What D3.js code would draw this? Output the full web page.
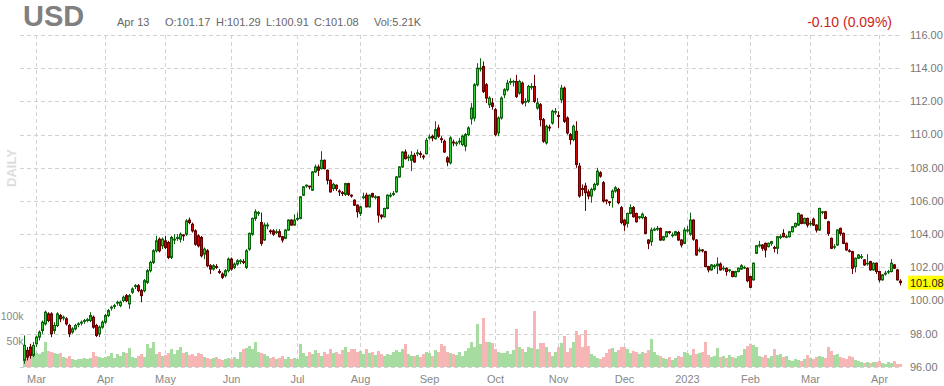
<!DOCTYPE html>
<html>
<head>
<meta charset="utf-8">
<script src="https://cdn.jsdelivr.net/npm/d3@7"></script>
<style>
  body { margin: 0; background: #fff; }
  svg { display: block; font-family: "Liberation Sans", Arial, sans-serif; }
</style>
</head>
<body>
<div id="chart"></div>
<script>
// Daily USD index candles with volume, Feb 2022 - Apr 2023

// Trading calendar: weekdays minus exchange holidays
var holidays = ["2022-04-15", "2022-12-26", "2023-01-02", "2023-04-07"];
var fmtDay = d3.timeFormat("%Y-%m-%d");
var dates = d3.timeDay.range(new Date(2022, 1, 23), new Date(2023, 3, 14))
    .filter(function (d) { return d.getDay() % 6 !== 0 && holidays.indexOf(fmtDay(d)) < 0; });

var opens = [
  96.4, 97.0, 97.2, 96.7, 97.4, 97.8, 98.2, 98.6, 99.2, 99.2,
  98.2, 98.5, 99.1, 98.95, 98.9, 98.5, 98.1, 98.3, 98.55, 98.65,
  98.75, 98.8, 98.8, 99.0, 98.5, 98.0, 98.4, 98.7, 99.1, 99.55,
  99.65, 99.85, 99.7, 100.0, 100.3, 99.8, 100.5, 100.85, 100.9, 100.6,
  100.6, 101.1, 101.8, 102.3, 103.0, 103.7, 103.3, 103.6, 103.5, 102.6,
  103.65, 103.75, 103.7, 103.95, 104.0, 104.85, 104.6, 104.2, 103.9, 103.8,
  102.8, 103.0, 102.1, 101.9, 102.05, 101.75, 101.6, 101.5, 101.8, 102.5,
  102.0, 102.2, 102.35, 102.35,
  102.0, 103.1, 104.0, 104.95, 105.25, 104.7, 103.65, 104.5, 104.2, 104.2,
  104.1, 104.15, 103.85, 103.75, 104.25, 104.85, 104.55, 104.9, 104.95, 106.35,
  106.9, 106.9, 106.65, 107.75, 108.05, 107.95, 108.45, 107.85, 107.25, 106.75,
  106.95, 106.6, 106.5, 106.4, 107.05, 106.35, 106.05, 105.75, 105.25, 106.2,
  106.35, 105.65, 106.45, 106.25, 106.25, 105.15, 105.05, 105.55, 106.3, 106.4,
  106.55, 107.45, 108.05, 108.95, 108.6, 108.45, 108.75, 108.85, 108.85, 108.7,
  108.85, 109.8, 109.9, 109.75, 110.4, 109.75, 109.6, 108.6, 108.3, 109.55,
  109.45, 109.55, 109.4,
  109.3, 110.0, 110.95, 111.0, 113.0, 113.95, 114.1, 113.0, 111.8, 111.9,
  111.5, 110.1, 111.0, 112.4, 112.7, 113.15, 113.2, 113.2, 112.5, 113.1,
  111.95, 112.0, 112.85, 112.9, 111.6, 111.8, 110.9, 109.5, 110.45, 110.7,
  111.35, 111.15, 112.1, 112.8, 111.0, 110.0, 109.7, 110.2, 108.1, 106.75,
  106.9, 106.55, 106.3, 106.7, 107.0, 107.7, 107.1, 106.05, 105.95, 106.2,
  106.6, 106.7, 105.6, 104.85, 104.65, 105.25, 105.6, 105.25, 105.0, 105.0,
  105.0, 103.65, 103.55, 104.25, 104.3, 104.35, 103.65, 103.85, 104.15, 103.95,
  103.95, 104.1, 103.65, 103.45, 104.2, 104.0,
  104.85, 103.65, 103.0, 103.05, 102.95, 102.05, 101.85, 102.05, 102.1, 102.2,
  101.95, 101.95, 101.85, 101.75, 101.45, 101.75, 101.9, 102.0, 101.95, 101.45,
  101.25, 102.85, 103.3, 103.35, 103.45, 103.25, 103.45, 103.2, 103.15, 103.8,
  104.05, 103.85, 103.85, 104.15, 104.45, 104.55, 105.15, 104.65, 104.95, 104.65,
  104.9, 104.55, 104.25, 105.35, 105.35, 104.75, 103.75, 103.25, 103.35, 104.35,
  104.05, 103.45, 103.0, 102.95, 102.05, 102.55, 102.65, 102.45, 102.25, 102.35,
  101.85, 102.25, 101.75, 101.25, 101.6, 101.75, 101.75, 102.15, 101.85, 101.17
];

var highs = [
  97.9, 97.2, 97.4, 97.5, 97.9, 98.2, 98.8, 99.4, 99.3, 99.3,
  98.7, 99.3, 99.2, 99.1, 99.0, 98.6, 98.4, 98.6, 98.7, 98.8,
  98.9, 98.95, 99.3, 99.1, 98.6, 98.5, 98.8, 99.2, 99.5, 99.7,
  99.8, 100.0, 100.0, 100.3, 100.4, 100.4, 100.8, 101.0, 101.0, 100.7,
  101.3, 101.9, 102.4, 103.1, 103.9, 103.8, 103.8, 103.9, 103.6, 103.9,
  104.0, 104.0, 104.1, 104.0, 104.9, 105.0, 104.7, 104.3, 104.0, 103.9,
  103.2, 103.1, 102.2, 102.2, 102.2, 101.9, 101.7, 101.9, 102.6, 102.6,
  102.3, 102.5, 102.5, 102.5,
  103.1, 104.1, 105.0, 105.5, 105.4, 105.3, 104.7, 104.7, 104.3, 104.3,
  104.3, 104.3, 103.9, 104.3, 104.9, 104.9, 105.2, 105.3, 106.3, 106.9,
  107.0, 106.9, 107.8, 108.2, 108.2, 109.0, 108.5, 107.9, 107.3, 107.1,
  107.0, 106.7, 106.6, 107.1, 107.1, 106.4, 106.1, 105.8, 105.7, 106.5,
  106.5, 106.4, 106.5, 106.35, 106.3, 105.2, 105.6, 106.4, 106.5, 106.6,
  107.5, 108.1, 109.0, 109.1, 108.8, 109.0, 108.9, 109.1, 109.0, 108.8,
  109.8, 110.0, 110.0, 110.8, 110.6, 109.9, 109.7, 108.7, 109.9, 109.7,
  109.6, 109.8, 110.0,
  110.1, 110.5, 111.9, 113.1, 114.3, 114.6, 114.4, 113.1, 112.3, 112.2,
  111.6, 111.1, 112.3, 112.8, 113.3, 113.4, 113.3, 113.6, 113.3, 113.2,
  112.2, 113.0, 113.1, 113.6, 112.2, 111.9, 111.0, 110.6, 110.6, 111.5,
  111.6, 111.4, 113.0, 112.9, 111.1, 110.1, 110.6, 110.8, 108.3, 107.0,
  107.1, 106.7, 106.8, 107.1, 108.0, 107.8, 107.2, 106.1, 106.0, 106.7,
  106.9, 106.8, 105.7, 104.9, 105.3, 105.8, 105.7, 105.3, 105.1, 105.3,
  105.1, 103.7, 104.4, 104.4, 104.5, 104.4, 103.9, 104.2, 104.2, 104.1,
  104.2, 104.2, 103.7, 104.4, 104.5, 105.3,
  104.9, 103.7, 103.2, 103.1, 103.0, 102.1, 102.2, 102.2, 102.6, 102.3,
  102.1, 102.0, 101.9, 101.8, 101.8, 102.0, 102.2, 102.1, 102.0, 101.5,
  102.3, 103.35, 103.6, 103.4, 103.5, 103.5, 103.6, 103.3, 103.9, 104.0,
  104.3, 103.95, 104.2, 104.5, 104.7, 105.3, 105.2, 105.0, 105.0, 104.8,
  105.0, 104.6, 105.6, 105.4, 105.4, 104.8, 103.8, 103.4, 104.3, 104.4,
  104.1, 103.5, 103.1, 103.0, 102.6, 102.8, 102.8, 102.5, 102.8, 102.4,
  102.3, 102.3, 101.8, 101.6, 101.8, 101.85, 102.5, 102.2, 101.9, 101.29
];

var lows = [
  96.2, 96.4, 96.5, 96.6, 97.2, 97.6, 98.0, 98.5, 98.7, 97.8,
  98.0, 98.4, 98.7, 98.8, 98.5, 97.8, 98.0, 98.2, 98.4, 98.5,
  98.6, 98.7, 98.7, 98.3, 97.8, 97.8, 98.3, 98.6, 99.0, 99.4,
  99.5, 99.7, 99.6, 99.9, 99.9, 99.5, 100.4, 100.7, 100.5, 99.9,
  100.5, 101.0, 101.7, 102.2, 102.9, 102.9, 103.1, 103.1, 102.5, 102.5,
  103.4, 103.6, 103.5, 103.6, 103.9, 104.6, 104.1, 103.3, 103.2, 102.6,
  102.5, 102.0, 101.6, 101.8, 101.9, 101.6, 101.3, 101.4, 101.7, 101.8,
  101.9, 102.1, 102.2, 102.2,
  101.9, 103.0, 103.9, 104.8, 105.1, 103.3, 103.6, 104.3, 104.0, 103.9,
  104.0, 103.8, 103.5, 103.7, 104.2, 104.5, 104.5, 104.8, 104.9, 106.3,
  106.8, 106.7, 106.6, 107.7, 107.5, 107.9, 107.9, 107.0, 106.5, 106.6,
  106.6, 106.3, 106.3, 106.3, 106.3, 106.2, 105.7, 105.0, 105.1, 106.1,
  105.6, 105.6, 106.2, 106.1, 104.7, 104.9, 105.0, 105.5, 106.2, 106.3,
  106.5, 107.4, 108.0, 108.5, 108.4, 107.8, 108.3, 108.7, 108.6, 108.5,
  108.8, 109.7, 109.6, 109.7, 109.8, 109.5, 108.9, 108.1, 108.2, 109.3,
  109.3, 109.4, 109.3,
  109.0, 109.9, 110.6, 110.8, 112.9, 113.8, 112.5, 111.9, 111.6, 111.5,
  109.9, 109.9, 110.9, 112.2, 112.6, 113.0, 112.9, 112.2, 112.4, 111.8,
  111.7, 111.9, 112.7, 111.9, 111.5, 110.5, 109.5, 109.4, 110.2, 110.6,
  111.2, 110.4, 111.9, 110.7, 110.0, 109.4, 109.6, 108.0, 106.2, 106.3,
  105.4, 106.1, 105.9, 106.6, 106.9, 107.4, 105.9, 105.8, 105.7, 105.6,
  106.5, 105.8, 104.6, 104.2, 104.4, 105.2, 105.0, 104.7, 104.9, 104.9,
  104.0, 103.1, 103.3, 104.2, 104.2, 103.6, 103.6, 103.8, 104.0, 103.8,
  103.9, 103.6, 103.2, 103.4, 104.1, 103.9,
  103.6, 102.7, 102.9, 102.9, 102.0, 101.7, 101.8, 101.9, 101.6, 101.8,
  101.8, 101.5, 101.7, 101.4, 101.4, 101.7, 101.85, 101.9, 101.1, 100.75,
  101.2, 102.8, 103.2, 103.0, 102.6, 103.2, 103.3, 102.9, 102.8, 103.7,
  103.8, 103.75, 103.8, 104.1, 104.4, 104.5, 104.6, 104.6, 104.4, 104.5,
  104.5, 104.1, 104.2, 105.2, 104.9, 103.9, 103.1, 103.1, 103.3, 103.9,
  103.4, 103.0, 102.9, 101.6, 101.7, 102.5, 102.5, 102.1, 102.1, 101.8,
  101.8, 101.6, 101.1, 101.2, 101.5, 101.6, 101.7, 101.9, 101.2, 100.91
];

var closes = [
  97.3, 96.6, 96.7, 97.3, 97.8, 98.1, 98.7, 99.3, 98.8, 98.0,
  98.5, 99.2, 98.9, 99.0, 98.6, 98.0, 98.3, 98.5, 98.6, 98.7,
  98.8, 98.85, 99.1, 98.4, 97.9, 98.4, 98.7, 99.1, 99.4, 99.6,
  99.7, 99.9, 99.9, 100.2, 100.0, 100.3, 100.7, 100.9, 100.6, 100.3,
  101.2, 101.8, 102.3, 103.0, 103.6, 103.0, 103.7, 103.2, 102.6, 103.8,
  103.7, 103.8, 104.0, 103.9, 104.8, 104.7, 104.2, 103.4, 103.3, 102.7,
  103.1, 102.1, 101.9, 102.1, 102.0, 101.7, 101.4, 101.8, 102.5, 101.9,
  102.2, 102.4, 102.4, 102.3,
  103.0, 104.05, 104.95, 105.35, 105.3, 103.45, 104.55, 104.55, 104.15, 104.0,
  104.15, 103.85, 103.65, 104.25, 104.85, 104.55, 104.85, 104.95, 106.25, 106.85,
  106.95, 106.85, 107.75, 108.05, 107.85, 108.45, 107.95, 107.25, 106.55, 107.0,
  106.75, 106.55, 106.45, 107.05, 106.4, 106.3, 105.75, 105.35, 105.65, 106.25,
  105.65, 106.35, 106.25, 106.25, 105.15, 105.05, 105.55, 106.35, 106.35, 106.45,
  107.45, 108.05, 108.95, 108.55, 108.65, 108.75, 108.35, 108.9, 108.8, 108.65,
  109.65, 109.85, 109.8, 110.3, 109.9, 109.7, 108.95, 108.35, 109.8, 109.5,
  109.5, 109.6, 109.9,
  110.0, 110.4, 111.6, 113.0, 114.0, 114.0, 112.6, 112.2, 112.2, 111.7,
  110.0, 111.0, 112.2, 112.7, 113.1, 113.2, 113.2, 112.3, 113.2, 111.9,
  112.0, 112.9, 112.9, 112.0, 111.9, 110.9, 109.6, 110.5, 110.4, 111.4,
  111.4, 111.1, 112.8, 110.8, 110.1, 109.7, 110.5, 108.2, 106.3, 106.7,
  106.5, 106.3, 106.7, 107.0, 107.8, 107.5, 106.0, 106.0, 105.9, 106.6,
  106.8, 105.9, 104.7, 104.55, 105.25, 105.6, 105.05, 104.75, 105.05, 105.2,
  104.05, 103.45, 104.25, 104.3, 104.35, 103.65, 103.85, 104.15, 104.1, 103.95,
  104.15, 103.65, 103.35, 104.25, 104.25, 104.85,
  103.7, 102.75, 103.05, 103.0, 102.05, 101.85, 102.15, 102.1, 102.2, 101.85,
  101.95, 101.75, 101.85, 101.45, 101.75, 101.95, 102.1, 102.0, 101.2, 100.8,
  102.25, 103.3, 103.35, 103.15, 103.05, 103.45, 103.55, 103.15, 103.85, 103.85,
  103.85, 103.85, 104.15, 104.45, 104.65, 105.25, 104.65, 104.95, 104.55, 104.65,
  104.55, 104.25, 105.55, 105.35, 104.95, 104.05, 103.15, 103.25, 104.25, 104.05,
  103.45, 103.05, 102.99, 101.95, 102.55, 102.75, 102.65, 102.15, 102.25, 101.85,
  102.25, 101.75, 101.25, 101.55, 101.65, 101.75, 102.25, 101.95, 101.25, 101.08
];

// volume in thousands of contracts
var volumes = [
  35, 28, 30, 22, 28, 25, 30, 50, 32, 30,
  28, 25, 28, 20, 18, 22, 15, 14, 16, 15,
  18, 16, 18, 30, 22, 20, 18, 20, 22, 28,
  18, 25, 22, 30, 28, 38, 20, 18, 22, 25,
  20, 45, 38, 50, 25, 30, 22, 24, 28, 36,
  26, 34, 40, 28, 30, 24, 26, 22, 28, 25,
  20, 18, 16, 18, 20, 15, 14, 16, 18, 15,
  20, 16, 30, 35, 38, 42, 35, 50, 30, 28,
  25, 22, 18, 20, 15, 18, 22, 16, 20, 15,
  18, 16, 45, 28, 22, 30, 26, 34, 28, 22,
  30, 25, 35, 28, 30, 25, 34, 40, 30, 35,
  36, 30, 32, 26, 35, 28, 30, 24, 32, 26,
  22, 26, 24, 30, 34, 30, 36, 45, 26, 22,
  22, 24, 20, 26, 30, 28, 22, 34, 30, 45,
  42, 30, 28, 26, 24, 30, 22, 32, 38, 50,
  40, 85, 45, 97, 50, 50, 48, 36, 30, 28,
  28, 32, 26, 34, 75, 40, 36, 30, 40, 38,
  110, 36, 47, 47, 40, 30, 22, 30, 40, 47,
  60, 30, 38, 50, 70, 62, 40, 72, 42, 25,
  22, 18, 15, 20, 28, 35, 38, 30, 34, 40,
  40, 36, 28, 32, 30, 26, 30, 28, 34, 55,
  30, 24, 22, 18, 16, 20, 14, 18, 22, 20,
  30, 28, 24, 36, 26, 28, 30, 50, 24, 20,
  22, 38, 20, 22, 18, 24, 20, 18, 22, 24,
  35, 42, 45, 44, 40, 22, 20, 24, 18, 22,
  36, 24, 26, 20, 22, 14, 12, 15, 14, 12,
  15, 24, 18, 16, 20, 22, 20, 18, 40, 32,
  24, 26, 20, 18, 16, 22, 19, 14, 12, 10,
  8, 10, 7, 9, 10, 12, 8, 6, 10, 8,
  12, 6, 5.21
];

var priceTicks = [96, 98, 100, 102, 104, 106, 108, 110, 112, 114, 116];
var volTicks = [50, 100];
var monthNames = ["Jan", "Feb", "Mar", "Apr", "May", "Jun", "Jul", "Aug", "Sep", "Oct", "Nov", "Dec"];

var n = Math.min(dates.length, closes.length);
var rows = d3.range(n).map(function (i) {
    return { date: dates[i], o: opens[i], h: highs[i], l: lows[i], c: closes[i], v: volumes[i] };
});

var width = 944, height = 386;
var svg = d3.select("#chart").append("svg")
    .attr("width", width)
    .attr("height", height);

// Scales
var x = d3.scaleBand()
    .domain(d3.range(n))
    .range([22.5, 901.5]);

var y = d3.scaleLinear()
    .domain([96, 116])
    .range([367, 35]);

var yVol = d3.scaleLinear()
    .domain([0, 100])
    .range([367, 316]);

function cx(i) { return Math.round(x(i) + x.bandwidth() / 2); }

// Month starts for vertical grid and labels
var monthStarts = [];
rows.forEach(function (d, i) {
    if (i > 0 && d.date.getMonth() !== rows[i - 1].date.getMonth()) monthStarts.push(i);
});

// Grid
var grid = svg.append("g").attr("stroke", "#d2d2d2").attr("stroke-dasharray", "4,3").attr("stroke-width", 1);
grid.selectAll(".hgrid")
    .data(priceTicks)
    .enter().append("line")
    .attr("x1", 20).attr("x2", 901)
    .attr("y1", function (d) { return Math.round(y(d)) + 0.5; })
    .attr("y2", function (d) { return Math.round(y(d)) + 0.5; });
grid.selectAll(".vgrid")
    .data(monthStarts)
    .enter().append("line")
    .attr("x1", function (i) { return cx(i) + 0.5; })
    .attr("x2", function (i) { return cx(i) + 0.5; })
    .attr("y1", 35).attr("y2", 367);

// Volume bars
svg.append("g").selectAll("rect")
    .data(rows)
    .enter().append("rect")
    .attr("x", function (d, i) { return cx(i) - 1; })
    .attr("width", 3)
    .attr("y", function (d) { return yVol(d.v); })
    .attr("height", function (d) { return yVol(0) - yVol(d.v); })
    .attr("fill", function (d) { return d.c >= d.o ? "#a6dc9f" : "#f7b6b6"; })
    .attr("shape-rendering", "crispEdges");

// Candles
var candle = svg.append("g").selectAll("g")
    .data(rows)
    .enter().append("g");

candle.append("line")
    .attr("x1", function (d, i) { return cx(i) + 0.5; })
    .attr("x2", function (d, i) { return cx(i) + 0.5; })
    .attr("y1", function (d) { return y(d.h); })
    .attr("y2", function (d) { return y(d.l); })
    .attr("stroke", function (d) { return d.c >= d.o ? "#0b640b" : "#640000"; })
    .attr("stroke-width", 1);

candle.append("rect")
    .attr("x", function (d, i) { return cx(i) - 0.5; })
    .attr("width", 2)
    .attr("y", function (d) { return y(Math.max(d.o, d.c)); })
    .attr("height", function (d) { return Math.max(Math.abs(y(d.o) - y(d.c)), 0.6); })
    .attr("fill", function (d) { return d.c >= d.o ? "#36cf36" : "#d20000"; })
    .attr("stroke", function (d) { return d.c >= d.o ? "#0b640b" : "#640000"; })
    .attr("stroke-width", 1);

// Right price axis labels
svg.append("g").selectAll("text")
    .data(priceTicks)
    .enter().append("text")
    .attr("x", 910)
    .attr("y", function (d) { return y(d); })
    .attr("dy", "0.35em")
    .attr("font-size", "11px")
    .attr("fill", "#777")
    .text(d3.format(".2f"));

// Last price marker
var last = rows[n - 1];
svg.append("rect")
    .attr("x", 908).attr("y", y(last.c) - 7)
    .attr("width", 36).attr("height", 14)
    .attr("fill", "#ffff00");
svg.append("text")
    .attr("x", 910).attr("y", y(last.c))
    .attr("dy", "0.35em")
    .attr("font-size", "11px")
    .attr("fill", "#222")
    .text(d3.format(".2f")(last.c));

// Volume labels
svg.append("g").selectAll("text")
    .data(volTicks)
    .enter().append("text")
    .attr("x", 23.5)
    .attr("y", function (d) { return yVol(d); })
    .attr("dy", "0.35em")
    .attr("text-anchor", "end")
    .attr("font-size", "10.5px")
    .attr("fill", "#888")
    .text(function (d) { return d + "k"; });

// Month labels
svg.append("g").selectAll("text")
    .data(monthStarts)
    .enter().append("text")
    .attr("x", function (i) { return cx(i) + 0.5; })
    .attr("y", 383)
    .attr("text-anchor", "middle")
    .attr("font-size", "11px")
    .attr("fill", "#888")
    .text(function (i) {
        var d = rows[i].date;
        return d.getMonth() === 0 ? String(d.getFullYear()) : monthNames[d.getMonth()];
    });

// DAILY watermark
svg.append("text")
    .attr("transform", "translate(16,168) rotate(-90)")
    .attr("text-anchor", "middle")
    .attr("font-size", "13px")
    .attr("font-weight", "bold")
    .attr("fill", "#dddddd")
    .text("DAILY");

// Header
svg.append("text")
    .attr("x", 23).attr("y", 26)
    .attr("font-size", "29px")
    .attr("font-weight", "bold")
    .attr("fill", "#808080")
    .text("USD");

var f2 = d3.format(".2f");
var header = [
    { x: 117, t: "Apr 13" },
    { x: 165, t: "O:" + f2(last.o) },
    { x: 216, t: "H:" + f2(last.h) },
    { x: 266, t: "L:" + f2(last.l) },
    { x: 314, t: "C:" + f2(last.c) },
    { x: 374, t: "Vol:" + last.v + "K" }
];
svg.append("g").selectAll("text")
    .data(header)
    .enter().append("text")
    .attr("x", function (d) { return d.x; })
    .attr("y", 26)
    .attr("font-size", "11px")
    .attr("fill", "#666")
    .text(function (d) { return d.t; });

svg.append("text")
    .attr("x", 892).attr("y", 27)
    .attr("text-anchor", "end")
    .attr("font-size", "14px")
    .attr("fill", "#cc2222")
    .text("-0.10 (0.09%)");
</script>
</body>
</html>
